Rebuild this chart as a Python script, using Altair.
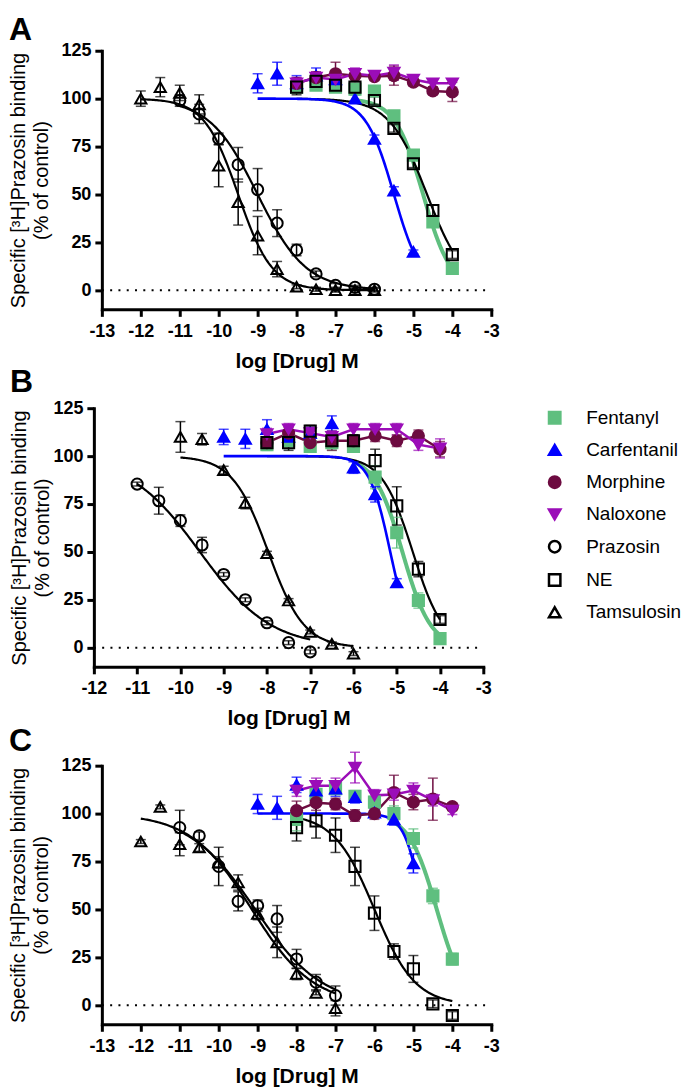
import altair as alt
import numpy as np
import pandas as pd

FONT = "Liberation Sans"

DRUGS = ["Fentanyl", "Carfentanil", "Morphine", "Naloxone", "Prazosin", "NE", "Tamsulosin"]
LINE_COLORS = ["#5FBF7F", "#0000FF", "#6D0B40", "#9B0DB8", "#000000", "#000000", "#000000"]
FILL_COLORS = ["#5FBF7F", "#0000FF", "#6D0B40", "#9B0DB8", "transparent", "transparent", "transparent"]
SHAPES = ["square", "triangle-up", "circle", "triangle-down", "circle", "square", "triangle-up"]

X_OPI = [-8, -7.5, -7, -6.5, -6, -5.5, -5, -4.5, -4]
X_CARF = [-9, -8.5, -8, -7.5, -7, -6.5, -6, -5.5, -5]

# ---------------- Panel A ----------------
A_FEN_Y = [106, 107, 106, 105, 104, 91, 70.5, 35.6, 11.4]
A_FEN_E = [2, 2, 2, 2, 2, 2, 2, 2, 2]
A_CARF_Y = [108, 113, 108, 112, 110, 100, 79, 52, 20]
A_CARF_E = [5, 6, 4, 4, 3, 2, 2, 2, 1]
A_MOR_Y = [108, 111, 113, 112, 111.5, 112, 108.6, 104, 103.5]
A_MOR_E = [3, 3, 6, 2, 2, 5, 2, 2, 5]
A_NAL_Y = [108, 111, 110, 113, 112, 113.6, 110, 108, 108]
A_NAL_E = [3, 3, 3, 3, 2, 4, 2, 2, 2]
A_PRAZ_X = [-11, -10.5, -10, -9.5, -9, -8.5, -8, -7.5, -7, -6.5, -6]
A_PRAZ_Y = [99, 92, 79, 65.5, 52.5, 35, 21, 8.5, 2.5, 1.5, 0.5]
A_PRAZ_E = [3, 5, 3, 9, 11, 7, 3, 1.5, 1, 1, 1]
A_NE_Y = [106, 109, 107, 106, 99, 84.5, 66, 41.6, 18.6]
A_NE_E = [4, 4, 3, 2, 2, 2, 2, 3, 2]
A_TAM_X = [-12, -11.5, -11, -10.5, -10, -9.5, -9, -8.5, -8, -7.5, -7, -6.5, -6]
A_TAM_Y = [100, 106, 103, 97, 65, 46, 28.5, 11, 1.8, 0.5, 0, 0, 0]
A_TAM_E = [4, 5, 4, 5, 11, 12, 10, 4, 1, 1, 1, 1, 1]
A_FIT_DRUG = ["Fentanyl", "NE", "Prazosin", "Tamsulosin", "Carfentanil"]
A_FIT_LOGIC50 = [-4.75, -4.65, -9.0, -9.5, -5.5]
A_FIT_HILL = [1.2, 0.9, 0.7, 1.0, 1.2]
A_FIT_XMIN = [-6.5, -8, -11, -12, -9]
A_FIT_XMAX = [-4, -4, -6, -6, -5]

# ---------------- Panel B ----------------
B_FEN_Y = [106, 108, 105, 107, 105, 89, 60, 24.6, 4.7]
B_FEN_E = [3, 4, 3, 4, 3, 6, 8, 4, 2]
B_CARF_Y = [110, 109, 114, 110, 112, 117, 94, 80, 34]
B_CARF_E = [4, 5, 5, 3, 3, 4, 3, 4, 2]
B_MOR_Y = [107, 112, 107, 108, 108, 110.6, 108, 110.6, 103.6]
B_MOR_E = [3, 3, 3, 5, 3, 3, 3, 3, 4]
B_NAL_Y = [111.5, 114, 112, 110, 114, 114, 114, 106, 104]
B_NAL_E = [3, 3, 3, 3, 3, 3, 3, 3, 5]
B_PRAZ_X = [-11, -10.5, -10, -9.5, -9, -8.5, -8, -7.5, -7]
B_PRAZ_Y = [85.4, 76.7, 66.3, 53.6, 38.2, 25, 13, 2.6, -2.2]
B_PRAZ_E = [1, 7, 3, 4, 1, 1, 1, 1, 1]
B_NE_Y = [107, 107, 113, 108, 108, 97.6, 74, 41, 14.7]
B_NE_E = [3, 4, 3, 4, 3, 6, 10, 4, 2]
B_TAM_X = [-10, -9.5, -9, -8.5, -8, -7.5, -7, -6.5, -6]
B_TAM_Y = [110, 108.8, 92.7, 75.5, 49.3, 24.6, 8.2, 2, -3.1]
B_TAM_E = [8, 3, 2, 3, 1, 1, 1, 1, 1]
B_FIT_DRUG = ["Fentanyl", "NE", "Prazosin", "Tamsulosin", "Carfentanil"]
B_FIT_LOGIC50 = [-4.87, -4.63, -9.55, -7.97, -5.15]
B_FIT_HILL = [1.33, 1.22, 0.53, 1.05, 1.8]
B_FIT_XMIN = [-6, -8, -11, -10, -9]
B_FIT_XMAX = [-4, -4, -7, -6, -5]

# ---------------- Panel C ----------------
C_FEN_Y = [97, 110, 113, 109, 106, 100, 87, 57, 24]
C_FEN_E = [6, 3, 3, 3, 3, 4, 5, 4, 3]
C_CARF_Y = [105, 103, 115, 112, 113, 108.5, 100.5, 97, 74]
C_CARF_E = [5, 6, 4, 4, 4, 3, 2, 3, 5]
C_MOR_Y = [101.5, 105.7, 105, 99, 100, 111, 106, 107.5, 103.6]
C_MOR_E = [5, 4, 3, 3, 3, 9, 4, 11, 2]
C_NAL_Y = [112, 114.5, 114.5, 124, 109.5, 110, 112, 107, 101.5]
C_NAL_E = [3, 4, 4, 8, 3, 3, 4, 3, 2]
C_PRAZ_X = [-11, -10.5, -10, -9.5, -9, -8.5, -8, -7.5, -7]
C_PRAZ_Y = [92.7, 88.4, 72.4, 54.2, 51.9, 45, 24.1, 12, 5]
C_PRAZ_E = [9, 2, 10, 5, 3, 7, 5, 4, 5]
C_NE_Y = [92.7, 96.2, 88.7, 72.4, 48, 28, 18.9, 0.7, -5.4]
C_NE_E = [7, 9, 9, 10, 9, 4, 7, 2, 2]
C_TAM_X = [-12, -11.5, -11, -10.5, -10, -9.5, -9, -8.5, -8, -7.5, -7]
C_TAM_Y = [85.4, 103.5, 84, 82.3, 74.5, 64, 47.6, 32.8, 16.3, 6.4, -1.6]
C_TAM_E = [1, 1, 6, 2, 3, 4, 3, 8, 3, 1, 4]
C_FIT_DRUG = ["Fentanyl", "NE", "Prazosin", "Tamsulosin", "Carfentanil"]
C_FIT_LOGIC50 = [-4.4, -6.0, -9.06, -9.15, -4.75]
C_FIT_HILL = [1.2, 0.83, 0.51, 0.55, 1.85]
C_FIT_XMIN = [-5.5, -8, -11, -12, -9]
C_FIT_XMAX = [-4, -4, -7, -7, -5]

Y_TICKS = [0, 25, 50, 75, 100, 125]
Y_TITLE = ["Specific [³H]Prazosin binding", "(% of control)"]
X_TITLE = "log [Drug] M"


def obs_frame(series):
    rows = []
    for drug, xs, ys, es in series:
        for xv, yv, ev in zip(xs, ys, es):
            rows.append({"drug": drug, "x": xv, "y": yv, "lo": yv - ev, "hi": yv + ev})
    return pd.DataFrame(rows)


def fit_frame(drugs, logic50, hill, xmin, xmax):
    rows = []
    for d, c, h, a, b in zip(drugs, logic50, hill, xmin, xmax):
        xs = np.linspace(a, b, 160)
        ys = 100.0 / (1.0 + 10.0 ** ((xs - c) * h))
        for xv, yv in zip(xs, ys):
            rows.append({"drug": d, "x": float(xv), "y": float(yv)})
    return pd.DataFrame(rows)


def panel(letter, obs, fit, xdomain, xrange_, title_offset, ytitle_pad, yoffset, legend):
    xticks = list(range(xdomain[0], xdomain[1] + 1))
    xscale = alt.Scale(domain=xdomain, range=xrange_, nice=False, zero=False)
    yscale = alt.Scale(domain=[-10, 125], nice=False, zero=False)
    xaxis = alt.Axis(values=xticks, title=X_TITLE, labelOverlap=False, labelFlush=False,
                     labelExpr="datum.value < 0 ? '-' + abs(datum.value) : datum.label")
    yaxis = alt.Axis(values=Y_TICKS, title=Y_TITLE, titlePadding=ytitle_pad,
                     offset=yoffset, labelOverlap=False, labelFlush=False)

    def X(f="x:Q"):
        return alt.X(f, scale=xscale, axis=xaxis)

    def Y(f="y:Q"):
        return alt.Y(f, scale=yscale, axis=yaxis)

    # line / error-bar colours: same mapping as the markers, listed in reverse order so
    # that this (legend-less) scale is kept apart from the marker legend
    color = alt.Color("drug:N",
                      scale=alt.Scale(domain=DRUGS[::-1], range=LINE_COLORS[::-1]),
                      legend=None)

    zero = alt.Chart(pd.DataFrame({"y": [0]})).mark_rule(
        color="black", strokeWidth=2, strokeDash=[2, 6.3]).encode(
        y=Y(),
        x=alt.X(datum=xdomain[0], scale=xscale, axis=xaxis),
        x2=alt.X2(datum=xdomain[1]),
    )

    fits = alt.Chart(fit)
    fit_green = fits.transform_filter(alt.datum.drug == "Fentanyl").mark_line(
        strokeWidth=4).encode(x=X(), y=Y(), color=color)
    fit_black = fits.transform_filter(
        alt.FieldOneOfPredicate(field="drug", oneOf=["Prazosin", "NE", "Tamsulosin"])
    ).mark_line(strokeWidth=2.2).encode(x=X(), y=Y(), color=color, detail="drug:N")
    fit_blue = fits.transform_filter(alt.datum.drug == "Carfentanil").mark_line(
        strokeWidth=2.6).encode(x=X(), y=Y(), color=color)

    base = alt.Chart(obs)
    conn = base.transform_filter(
        alt.FieldOneOfPredicate(field="drug", oneOf=["Morphine", "Naloxone"])
    ).mark_line(strokeWidth=2.5).encode(x=X(), y=Y(), color=color)

    err = base.mark_rule(strokeWidth=1.5).encode(x=X(), y=Y("lo:Q"), y2="hi:Q", color=color)
    cap_lo = base.mark_tick(orient="horizontal", size=10, thickness=1.5).encode(
        x=X(), y=Y("lo:Q"), color=color)
    cap_hi = base.mark_tick(orient="horizontal", size=10, thickness=1.5).encode(
        x=X(), y=Y("hi:Q"), color=color)

    pts = base.mark_point(size=125, strokeWidth=2, opacity=1).encode(
        x=X(), y=Y(),
        shape=alt.Shape("drug:N", scale=alt.Scale(domain=DRUGS, range=SHAPES), legend=legend),
        fill=alt.Fill("drug:N", scale=alt.Scale(domain=DRUGS, range=FILL_COLORS), legend=legend),
        stroke=alt.Stroke("drug:N", scale=alt.Scale(domain=DRUGS, range=LINE_COLORS), legend=legend),
    )

    return alt.layer(zero, fit_green, fit_black, fit_blue, conn, err, cap_lo, cap_hi, pts).properties(
        width=390, height=259,
        title=alt.TitleParams(letter, anchor="start", frame="bounds", fontSize=32,
                              fontWeight="bold", font=FONT, color="black", offset=title_offset),
    )


obs_a = obs_frame([
    ("Fentanyl", X_OPI, A_FEN_Y, A_FEN_E),
    ("Carfentanil", X_CARF, A_CARF_Y, A_CARF_E),
    ("Morphine", X_OPI, A_MOR_Y, A_MOR_E),
    ("Naloxone", X_OPI, A_NAL_Y, A_NAL_E),
    ("Prazosin", A_PRAZ_X, A_PRAZ_Y, A_PRAZ_E),
    ("NE", X_OPI, A_NE_Y, A_NE_E),
    ("Tamsulosin", A_TAM_X, A_TAM_Y, A_TAM_E),
])
obs_b = obs_frame([
    ("Fentanyl", X_OPI, B_FEN_Y, B_FEN_E),
    ("Carfentanil", X_CARF, B_CARF_Y, B_CARF_E),
    ("Morphine", X_OPI, B_MOR_Y, B_MOR_E),
    ("Naloxone", X_OPI, B_NAL_Y, B_NAL_E),
    ("Prazosin", B_PRAZ_X, B_PRAZ_Y, B_PRAZ_E),
    ("NE", X_OPI, B_NE_Y, B_NE_E),
    ("Tamsulosin", B_TAM_X, B_TAM_Y, B_TAM_E),
])
obs_c = obs_frame([
    ("Fentanyl", X_OPI, C_FEN_Y, C_FEN_E),
    ("Carfentanil", X_CARF, C_CARF_Y, C_CARF_E),
    ("Morphine", X_OPI, C_MOR_Y, C_MOR_E),
    ("Naloxone", X_OPI, C_NAL_Y, C_NAL_E),
    ("Prazosin", C_PRAZ_X, C_PRAZ_Y, C_PRAZ_E),
    ("NE", X_OPI, C_NE_Y, C_NE_E),
    ("Tamsulosin", C_TAM_X, C_TAM_Y, C_TAM_E),
])

fit_a = fit_frame(A_FIT_DRUG, A_FIT_LOGIC50, A_FIT_HILL, A_FIT_XMIN, A_FIT_XMAX)
fit_b = fit_frame(B_FIT_DRUG, B_FIT_LOGIC50, B_FIT_HILL, B_FIT_XMIN, B_FIT_XMAX)
fit_c = fit_frame(C_FIT_DRUG, C_FIT_LOGIC50, C_FIT_HILL, C_FIT_XMIN, C_FIT_XMAX)

legend_b = alt.Legend(orient="right", offset=54, title=None,
                      labelFont=FONT, labelFontSize=19, labelColor="black",
                      symbolSize=130, symbolStrokeWidth=2.5, rowPadding=10.3,
                      labelOffset=22, padding=0)

chart_a = panel("A", obs_a, fit_a, [-13, -3], [0, 390], -5, 9, 0, None)
chart_b = panel("B", obs_b, fit_b, [-12, -3], [-8, 382], 0, 0, 8, legend_b)
chart_c = panel("C", obs_c, fit_c, [-13, -3], [0, 390], -6, 9, 0, None)

chart = alt.vconcat(chart_a, chart_b, chart_c, spacing=-5).resolve_scale(
    x="independent", y="independent", color="independent",
    fill="independent", stroke="independent", shape="independent",
).resolve_legend(
    fill="independent", stroke="independent", shape="independent",
).properties(
    padding={"left": 0, "top": 5, "right": 0, "bottom": 0}
).configure_view(stroke=None).configure_axis(
    domainColor="black", domainWidth=3, domainCap="square",
    tickColor="black", tickWidth=3, tickSize=7,
    labelFont=FONT, labelFontSize=18, labelFontWeight="bold", labelColor="black",
    labelPadding=4, titleFont=FONT, titleColor="black", grid=False,
).configure_axisX(
    labelPadding=6, titleFontSize=21, titleFontWeight="bold", titlePadding=10,
).configure_axisY(
    titleFontSize=20, titleFontWeight="normal", titleLineHeight=23,
)

chart.save("out.html", embed_options={"renderer": "svg", "actions": False})
